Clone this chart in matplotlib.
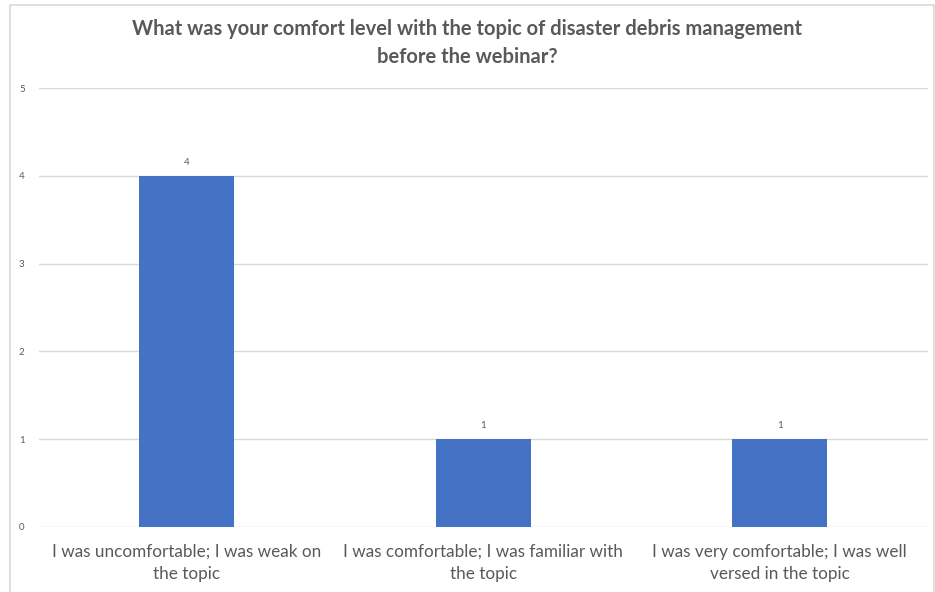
import matplotlib.pyplot as plt
from matplotlib.patches import Rectangle

categories = [
    "I was uncomfortable; I was weak on\nthe topic",
    "I was comfortable; I was familiar with\nthe topic",
    "I was very comfortable; I was well\nversed in the topic",
]
counts = [4, 1, 1]
yticks = [0, 1, 2, 3, 4, 5]

plt.rcParams["font.family"] = ["Lato", "DejaVu Sans"]

fig = plt.figure(figsize=(9.35, 5.92), dpi=100)
# chart border
fig.patches.append(Rectangle((10 / 935, -0.01), 924 / 935, 1 - 5 / 592 + 0.01,
                             transform=fig.transFigure, fill=False,
                             edgecolor="#d9d9d9", linewidth=1.2))

ax = fig.add_axes([38.5 / 935, 1 - 527 / 592, 889.5 / 935, 439 / 592])
x = range(len(categories))
bars = ax.bar(x, counts, width=0.32, color="#4472C4", zorder=3)
for b, v in zip(bars, counts):
    ax.text(b.get_x() + b.get_width() / 2, v + 0.1, str(v), ha="center",
            va="bottom", fontsize=7, color="#595959")

ax.set_xlim(-0.5, 2.5)
ax.set_ylim(0, 5)
ax.set_yticks(yticks)
ax.set_xticks(list(x))
ax.set_xticklabels(categories, fontsize=12.3, color="#595959", linespacing=1.45)
ax.tick_params(axis="y", labelsize=7, labelcolor="#595959", length=0, pad=10)
ax.tick_params(axis="x", length=0, pad=12)
ax.grid(axis="y", color="#d9d9d9", linewidth=1, zorder=0)
for s in ax.spines.values():
    s.set_visible(False)

fig.text(0.5, 1 - 43 / 592,
         "What was your comfort level with the topic of disaster debris management\nbefore the webinar?",
         ha="center", va="center", fontsize=14.5, fontweight="bold",
         color="#595959", linespacing=1.45)

fig.savefig("out.png", dpi=100)
